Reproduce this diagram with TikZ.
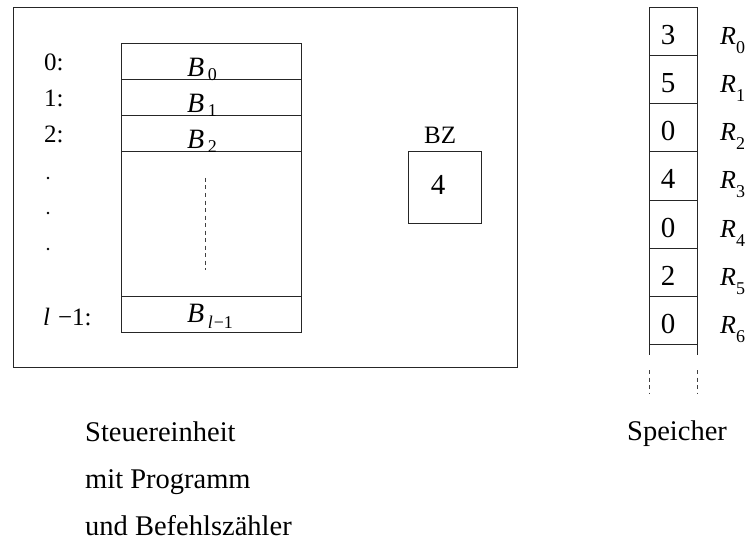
\documentclass[tikz,border=0pt]{standalone}
\usepackage{fontspec}
\setmainfont{Liberation Serif}
\newcommand\fsz[1]{\fontsize{#1}{#1}\selectfont}
\newcommand\Bsub[2]{\textit{B}\hspace{3.5pt}\raisebox{#2}{\fsz{18}#1}}
\newcommand\Rsub[1]{\textit{R}\raisebox{-9pt}{\fsz{18}#1}}
\begin{document}
\begin{tikzpicture}[x=1pt,y=-1pt,
  ln/.style={draw=black!85, line width=1pt},
  dsh/.style={draw=black!75, line width=0.9pt, dash pattern=on 4pt off 3.5pt},
  txt/.style={inner sep=0pt, anchor=base west},
  ctxt/.style={inner sep=0pt, anchor=base}]
\useasboundingbox (0,0) rectangle (749,540);

% Steuereinheit
\draw[ln] (13,8) rectangle (517,367);
\draw[ln] (121,44) rectangle (301,332);
\foreach \yy in {80,116,152,296} \draw[ln] (121,\yy) -- (301,\yy);
\draw[dsh] (205,178) -- (205,270);

\node[txt] (l0) at (44,71) {\fsz{25}0:};
\node[txt] (l1) at (44,107) {\fsz{25}1:};
\node[txt] (l2) at (44,143) {\fsz{25}2:};
\node[txt] (ll) at (43,325) {\fsz{25}\textit{l}\hspace{8pt}−1:};
\foreach \yy in {178,213,249} \fill[black] (48,\yy) circle (1.3pt);

\node[txt] (b0) at (187,77) {\fsz{28}\Bsub{0}{-4pt}};
\node[txt] (b1) at (187,113) {\fsz{28}\Bsub{1}{-4pt}};
\node[txt] (b2) at (187,149) {\fsz{28}\Bsub{2}{-4pt}};
\node[txt] (bl) at (187,322) {\fsz{28}\Bsub{\textit{l}\hspace{1pt}−1}{-6pt}};

% Befehlszaehler
\node[txt] (bzl) at (424,144) {\fsz{25}BZ};
\draw[ln] (408,152) rectangle (481,223);
\node[ctxt] (bz) at (438,195) {\fsz{29}4};

% Speicher
\foreach \v [count=\i from 0] in {3,5,0,4,0,2,0} {
  \draw[ln] (649,8+48*\i) rectangle (697,56+48*\i);
  \node[ctxt] (m\i) at (668,45+48*\i) {\fsz{29}\v};
  \node[txt] (r\i) at (720,45+48*\i) {\fsz{26}\Rsub{\i}};
}
\draw[ln] (649,344) -- (649,355);
\draw[ln] (697,344) -- (697,355);
\draw[dsh] (649,370) -- (649,393);
\draw[dsh] (697,370) -- (697,393);

% captions
\node[txt] (c1) at (85,441) {\fsz{28.5}Steuereinheit};
\node[txt] (c2) at (85,488) {\fsz{28.5}mit Programm};
\node[txt] (c3) at (85,535) {\fsz{28.5}und Befehlszähler};
\node[txt] (c4) at (627,440) {\fsz{28.5}Speicher};
\end{tikzpicture}
\end{document}
